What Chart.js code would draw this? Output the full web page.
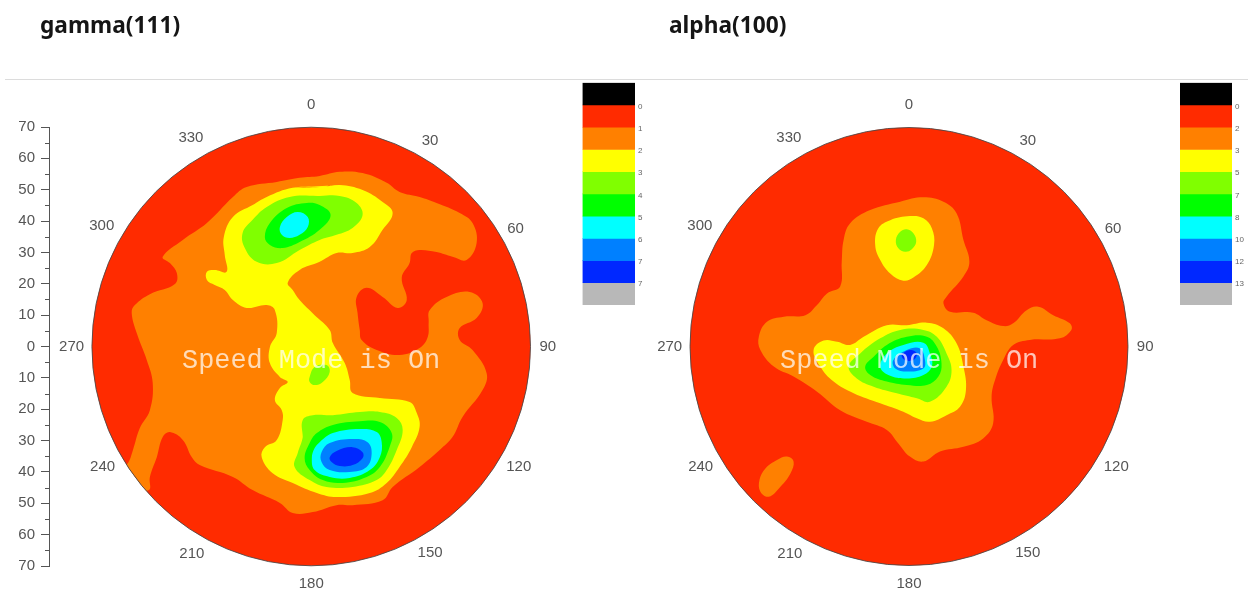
<!DOCTYPE html>
<html>
<head>
<meta charset="utf-8">
<title>gamma(111) / alpha(100)</title>
<script src="https://cdn.jsdelivr.net/npm/chart.js@4"></script>
<style>
    html, body { margin: 0; padding: 0; background: #ffffff; width: 1248px; height: 594px; overflow: hidden; }
    canvas { position: absolute; filter: blur(0.45px); }
    .title { position: absolute; top: 9px; font: bold 22.7px "Noto Sans", sans-serif; color: #151515; filter: blur(0.3px); }
    .rule { position: absolute; left: 5px; right: 0; top: 79px; height: 1px; background: #dcdcdc; }
    .speed { position: absolute; top: 346px; font: 26.9px "Liberation Mono", monospace; color: rgba(255, 255, 255, 0.72); white-space: pre; filter: blur(0.4px); }
</style>
</head>
<body>
<div class="title" style="left: 40px">gamma(111)</div>
<div class="title" style="left: 669px">alpha(100)</div>
<div class="rule"></div>

<canvas id="gamma-chart" width="580" height="594" style="left: 0; top: 0"></canvas>
<canvas id="alpha-chart" width="540" height="594" style="left: 640px; top: 0"></canvas>
<canvas id="gamma-bar" width="72" height="240" style="left: 576px; top: 75px"></canvas>
<canvas id="alpha-bar" width="74" height="240" style="left: 1174px; top: 75px"></canvas>

<div class="speed" style="left: 182px">Speed Mode is On</div>
<div class="speed" style="left: 780px">Speed Mode is On</div>

<script>
// Pole figure axis values
const radialTicks = [-70, -60, -50, -40, -30, -20, -10, 0, 10, 20, 30, 40, 50, 60, 70];
const radialMinorTicks = [-65, -55, -45, -35, -25, -15, -5, 5, 15, 25, 35, 45, 55, 65];
const angleLabels = [0, 30, 60, 90, 120, 150, 180, 210, 240, 270, 300, 330];
const angleLabelRadii = [77.2, 75.9, 75.3, 75.5, 76.5, 75.9, 75.6, 76.2, 76.9, 76.5, 77.2, 76.8];

// Colour scale
const levelColors = ['#000000', '#ff2b00', '#ff8000', '#ffff00', '#80ff00', '#00ff00', '#00ffff', '#0080ff', '#0028ff', '#b8b8b8'];
const gammaLevelLabels = ['0', '1', '2', '3', '4', '5', '6', '7', '7'];
const alphaLevelLabels = ['0', '2', '3', '5', '7', '8', '10', '12', '13'];

// gamma(111) contours in axis units
const gammaLevel2 = [[-47.4,28.6],[-41,34],[-33.3,39.4],[-25,47.7],[-20.6,50.9],[-11,52.5],[-3.7,53.8],[2.7,54.4],[9.1,55.7],[16.4,55.3],[24.1,52.2],[28.2,49.3],[34.6,47.7],[40,45.8],[47.4,42.6],[51.5,39.4],[52.8,33],[49.6,27.6],[45.1,28.6],[40,30.1],[34.6,30.8],[32.1,29.8],[31.4,26.6],[28.9,21.9],[30.5,14.8],[27.6,12.3],[22.8,15.8],[17.7,18.7],[14.5,15.8],[14.8,10.7],[15.5,5.3],[16.1,2.1],[20.9,-1.1],[28.2,-2.7],[34.6,-0.5],[37.2,3],[37.5,7.8],[37.8,11.6],[43.2,15.8],[50.6,17.4],[54.7,13.9],[52.8,9.1],[47.4,5.9],[47.4,2.1],[51.5,-1.1],[56,-8.5],[54.7,-13.9],[48.3,-22.5],[45.1,-28.9],[41,-33],[34.6,-38.4],[26,-44.8],[22.8,-49],[13.2,-50.6],[8.1,-50.6],[0.5,-52.8],[-5.9,-53.1],[-10,-49.9],[-18.7,-45.8],[-25,-41.6],[-35.6,-37.8],[-38.1,-35.3],[-41,-29.8],[-45.1,-27.3],[-47.4,-28.9],[-49.3,-35.3],[-51.5,-41.6],[-51.8,-45.8],[-57,-45],[-60,-38],[-58.5,-37.2],[-56.9,-33],[-54.7,-26],[-51.5,-20.3],[-50.6,-11.6],[-52.5,-4.3],[-55.7,4.3],[-57.3,10.7],[-56.3,13.2],[-51.5,16.7],[-43.5,19.9],[-42.9,23.4],[-45.1,26.6]];
const gammaLevel3 = [[2.7,50.9],[9.1,51.5],[16.4,49.9],[22.8,46.1],[26,42.6],[22.8,37.2],[18.7,31.7],[13.2,29.8],[8.1,29.8],[2.7,27],[-3.7,24.4],[-7.5,20.3],[-5.9,18],[-3.7,14.8],[1.1,10],[5.9,5.3],[6.9,1.1],[10.7,-5.3],[12.3,-10.7],[13.2,-14.8],[21.9,-16.4],[31.4,-17.7],[33.7,-21.2],[34.6,-25.7],[32.1,-32.1],[28.2,-38.4],[24.1,-43.5],[18.7,-46.7],[8.1,-48],[1.8,-46.7],[-5.9,-43.5],[-12.3,-40.4],[-15.8,-35.3],[-14.8,-32.1],[-11,-29.8],[-9.1,-23.4],[-9.4,-20.3],[-11.6,-17.1],[-10,-13.2],[-7.5,-11.3],[-10,-9.7],[-13.2,-5.3],[-13.2,-0.2],[-11,4.3],[-11.6,11.6],[-14.2,13.2],[-20.6,12.3],[-25,14.8],[-27.6,18],[-30.8,19.6],[-33.3,21.2],[-33.3,23.8],[-30.8,24.4],[-27,23.8],[-27.6,29.2],[-27.9,34.9],[-25,41.3],[-18.7,45.1],[-14.2,47.7],[-5.9,50.6]];
const gammaTopLevel4 = [[-21.9,36.2],[-18.7,40.4],[-14.2,44.5],[-6.9,47.7],[2.7,48],[9.1,48],[14.5,45.8],[16.4,41.9],[13.2,37.8],[8.1,35.6],[2.7,34],[-3.7,30.8],[-11,26.6],[-17.4,27],[-21.2,31.4]];
const gammaTopLevel5 = [[-14.8,34.9],[-13.2,39.4],[-7.8,44.2],[-1.4,45.8],[2.7,45.1],[6.2,41.9],[2.7,37.2],[-3.7,33.3],[-9.1,31.4],[-13.2,32.4]];
const gammaTopLevel6 = [[-10,38.1],[-7.8,41.3],[-4.3,42.9],[-1.1,41.3],[-1.1,38.1],[-3.7,35.6],[-6.9,34.6],[-9.4,35.6]];
const gammaMidLevel4 = [[-0.5,-9.7],[1.1,-6.5],[4.9,-5.9],[5.9,-8.1],[3.7,-11.3],[1.1,-12.3],[-0.5,-11.3]];
const gammaLowLevel4 = [[-2.7,-23.4],[0.5,-21.9],[6.9,-21.9],[15.5,-20.9],[21.9,-20.9],[27.3,-22.8],[29.2,-26.6],[27.3,-33],[24.1,-39.4],[20.9,-42.6],[13.2,-44.8],[4.9,-44.8],[-0.5,-42.6],[-5.3,-38.4],[-4.3,-34],[-2.7,-28.9]];
const gammaLowLevel5 = [[1.8,-27.6],[6.9,-25],[15.5,-23.8],[21.9,-24.1],[25.7,-27.6],[25,-32.1],[21.9,-38.4],[17.7,-41.6],[10,-43.5],[3.7,-42.6],[-0.5,-39.4],[-2.1,-35.6],[-0.5,-30.8]];
const gammaLowLevel6 = [[2.7,-30.5],[6.9,-27.6],[15.5,-26.3],[20.9,-27.3],[22.5,-30.5],[21.9,-35.3],[18.7,-39.4],[12.3,-41.9],[5.9,-41.6],[1.1,-39.4],[0.2,-35.6],[1.1,-32.4]];
const gammaLowLevel7 = [[3.3,-33.7],[5.9,-30.8],[13.2,-29.5],[18,-30.5],[19.3,-34],[17.7,-38.4],[12.3,-40],[5.9,-39.4],[3.3,-36.8]];
const gammaLowLevel8 = [[5.9,-35.3],[8.1,-33.3],[13.2,-32.1],[16.4,-33.7],[16.4,-35.6],[13.2,-37.8],[9.1,-38.1],[6.5,-36.8]];

// alpha(100) contours
const alphaLevel2 = [[-12.4,43.5],[-2.8,46.2],[4.6,47.6],[11,46.2],[15.2,42.5],[17.4,34],[19.3,27],[17.4,22.3],[12,15.9],[11,13.8],[13.1,11.1],[20.5,10.8],[24.8,8.4],[30.1,6.5],[33.3,7.4],[37.6,11.6],[41.3,12.7],[46.1,10],[51.4,7.4],[51.9,5.3],[48.2,2.6],[38.6,2.1],[33.3,0.5],[30.1,-4.3],[27.5,-10.7],[26.4,-16],[26.9,-24.5],[23.7,-29.3],[17.4,-32],[9.9,-33.5],[4.6,-36.7],[0.3,-35.1],[-3.4,-30.9],[-7.1,-26.6],[-13.5,-24],[-22,-20.3],[-29.4,-14.4],[-36.9,-9.6],[-43.2,-6.4],[-47.5,-1.1],[-48,3.1],[-45.4,7.9],[-40,9.5],[-33.1,10],[-29.4,13.2],[-26.2,16.9],[-22,19.1],[-21.5,27],[-20.9,34],[-18.8,39.3]];
const alphaIslandLevel2 = [[-36.9,-36.7],[-39,-35.1],[-42.2,-36.2],[-45.9,-38.9],[-47.8,-42.6],[-47.5,-46.3],[-44.8,-47.9],[-41.1,-44.7],[-37.9,-40.5]];
const alphaTopLevel3 = [[-10.8,32.4],[-9.8,37.7],[-6,40.3],[0.3,41.6],[4.6,40.9],[7.3,37.7],[8,32.4],[5.7,26],[1.4,22],[-1.8,21],[-6,23.3],[-9.2,27.6]];
const alphaTopLevel4 = [[-4.2,34],[-2.8,36.6],[-0.7,37.4],[1.4,36.1],[2.3,33.4],[0.9,31],[-1.2,30.2],[-3.4,31.3]];
const alphaMidLevel3 = [[-30.5,-1.1],[-27.3,1.9],[-23,1.5],[-18.8,0.5],[-14.5,3.1],[-7.1,6.8],[-0.7,6.8],[5.7,7.6],[11,5.8],[15.2,1],[17.4,-6.4],[18.2,-13.9],[16.3,-19.2],[12,-21.9],[6.7,-24],[2.5,-22.9],[-1.8,-20.8],[-9.2,-18.1],[-17.7,-14.9],[-24.1,-11.2],[-28.4,-6.4]];
const alphaMidLevel4 = [[-19.3,-6.4],[-15.6,-2.2],[-9.2,2.6],[-2.8,5.3],[4.6,5.3],[8.9,3.1],[12,-2.2],[13.6,-7.5],[12,-12.8],[6.7,-17.6],[2.5,-16.5],[-3.9,-14.9],[-11.3,-12.8],[-16.7,-10.2]];
const alphaMidLevel5 = [[-14,-6.4],[-11.3,-3.3],[-7.1,0.5],[-0.7,3.1],[5.7,3.1],[8.9,-0.1],[10.4,-5.4],[9.4,-9.6],[5.7,-12.3],[-0.7,-12.3],[-7.1,-11.2],[-12.4,-9.1]];
const alphaMidLevel6 = [[-9.2,-6.4],[-7.1,-2.2],[-1.8,0.5],[4.6,1.2],[6.7,-2.2],[7.3,-6.4],[4.6,-9.1],[-0.7,-10.2],[-6.6,-9.1]];
const alphaMidLevel7 = [[-5,-4.3],[-0.7,-1.1],[3.5,-0.6],[5.1,-4.3],[4.6,-7],[-0.7,-8],[-4.4,-7]];
const alphaMidLevel8 = [[-2.3,-2.7],[0.3,-1.1],[2.5,-2.2],[1.4,-4.3],[-1.3,-4.3]];

// Back to front, [points, index into levelColors]
const gammaContours = [
    [gammaLevel2, 2], [gammaLevel3, 3], [gammaTopLevel4, 4], [gammaTopLevel5, 5], [gammaTopLevel6, 6],
    [gammaMidLevel4, 4], [gammaLowLevel4, 4], [gammaLowLevel5, 5], [gammaLowLevel6, 6], [gammaLowLevel7, 7], [gammaLowLevel8, 8]
];
const alphaContours = [
    [alphaLevel2, 2], [alphaIslandLevel2, 2], [alphaTopLevel3, 3], [alphaTopLevel4, 4],
    [alphaMidLevel3, 3], [alphaMidLevel4, 4], [alphaMidLevel5, 5], [alphaMidLevel6, 6], [alphaMidLevel7, 7], [alphaMidLevel8, 8]
];

// Turn a contour list into closed scatter datasets.
// Points wrap round by a couple so the curve stays smooth where it closes.
function contourDatasets(contours) {
    return contours.map(([points, level], i) => ({
        data: points.slice(-1).concat(points, points.slice(0, 2)).map(([x, y]) => ({ x, y })),
        showLine: true,
        fill: 'shape',
        backgroundColor: levelColors[level],
        borderWidth: 0,
        pointRadius: 0,
        tension: 0.4,
        order: contours.length - i
    }));
}

// Red disk, rim and angle labels, all placed through the scales
const poleFigurePlugin = {
    id: 'poleFigure',
    beforeDatasetsDraw(chart) {
        const { ctx, scales: { x, y } } = chart;
        const radius = x.getPixelForValue(70) - x.getPixelForValue(0);
        ctx.save();
        ctx.beginPath();
        ctx.arc(x.getPixelForValue(0), y.getPixelForValue(0), radius, 0, Math.PI * 2);
        ctx.fillStyle = levelColors[1];
        ctx.fill();
        ctx.clip();
    },
    afterDatasetsDraw(chart) {
        const { ctx, scales: { x, y } } = chart;
        const radius = x.getPixelForValue(70) - x.getPixelForValue(0);
        ctx.restore();
        ctx.beginPath();
        ctx.arc(x.getPixelForValue(0), y.getPixelForValue(0), radius, 0, Math.PI * 2);
        ctx.strokeStyle = 'rgba(70, 70, 70, 0.85)';
        ctx.lineWidth = 1;
        ctx.stroke();

        ctx.fillStyle = '#555555';
        ctx.font = '15px "Liberation Sans", Arial, sans-serif';
        ctx.textAlign = 'center';
        ctx.textBaseline = 'middle';
        angleLabels.forEach((angle, i) => {
            const rad = angle * Math.PI / 180;
            const r = angleLabelRadii[i];
            ctx.fillText(String(angle), x.getPixelForValue(r * Math.sin(rad)), y.getPixelForValue(r * Math.cos(rad)));
        });

        // Short minor ticks on the radial axis
        if (chart.options.scales.y.display) {
            ctx.strokeStyle = '#555555';
            ctx.beginPath();
            radialMinorTicks.forEach(value => {
                const py = Math.round(y.getPixelForValue(value)) + 0.5;
                ctx.moveTo(chart.chartArea.left - 4, py);
                ctx.lineTo(chart.chartArea.left, py);
            });
            ctx.stroke();
        }
    }
};

function poleFigure(canvasId, contours, xMin, padding, showAxis) {
    return new Chart(document.getElementById(canvasId), {
        type: 'scatter',
        data: { datasets: contourDatasets(contours) },
        plugins: [poleFigurePlugin],
        options: {
            responsive: false,
            animation: false,
            layout: { padding },
            plugins: { legend: { display: false }, tooltip: { enabled: false } },
            scales: {
                x: { type: 'linear', min: xMin, max: 70, display: false },
                y: {
                    type: 'linear',
                    min: -70,
                    max: 70,
                    display: showAxis,
                    afterBuildTicks: scale => { scale.ticks = radialTicks.map(value => ({ value })); },
                    afterFit: scale => { scale.width = showAxis ? 49 : 0; },
                    grid: { drawOnChartArea: false, tickLength: 8, tickColor: '#555555' },
                    border: { color: '#555555' },
                    ticks: {
                        color: '#555555',
                        padding: 6,
                        font: { size: 15, family: '"Liberation Sans", Arial, sans-serif' },
                        callback: value => String(Math.abs(value))
                    }
                }
            }
        }
    });
}

poleFigure('gamma-chart', gammaContours, -83.7, { top: 127, bottom: 28, left: 0, right: 49.5 }, true);
poleFigure('alpha-chart', alphaContours, -70, { top: 127, bottom: 28, left: 50, right: 52 }, false);

// Colour bars
function colorBar(canvasId, labels, leftPad, axisWidth) {
    return new Chart(document.getElementById(canvasId), {
        type: 'bar',
        data: {
            labels: ['level'],
            datasets: levelColors.map(color => ({
                data: [1],
                backgroundColor: color,
                barPercentage: 1,
                categoryPercentage: 1
            }))
        },
        options: {
            responsive: false,
            animation: false,
            layout: { padding: { top: 7.3, bottom: 10, left: leftPad, right: 0 } },
            plugins: { legend: { display: false }, tooltip: { enabled: false } },
            scales: {
                x: { stacked: true, display: false },
                y: {
                    stacked: true,
                    reverse: true,
                    position: 'right',
                    min: 0,
                    max: 10,
                    afterBuildTicks: scale => { scale.ticks = labels.map((_, i) => ({ value: i + 1 })); },
                    afterFit: scale => { scale.width = axisWidth; },
                    grid: { display: false, drawTicks: false },
                    border: { display: false },
                    ticks: {
                        color: '#666666',
                        padding: 3,
                        labelOffset: 1.5,
                        font: { size: 8, family: '"Liberation Sans", Arial, sans-serif' },
                        callback: (value) => labels[value - 1]
                    }
                }
            }
        }
    });
}

colorBar('gamma-bar', gammaLevelLabels, 6.5, 13);
colorBar('alpha-bar', alphaLevelLabels, 6, 16);
</script>
</body>
</html>
